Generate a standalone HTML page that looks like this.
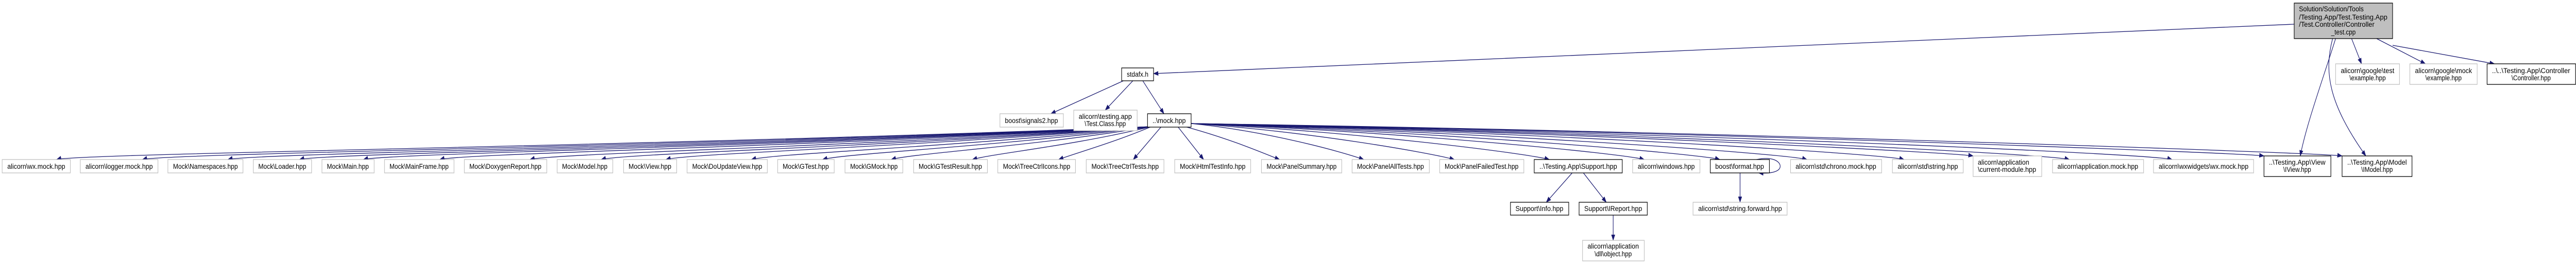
<!DOCTYPE html>
<html><head><meta charset="utf-8">
<style>
html,body{margin:0;padding:0;background:#fff;width:100%;height:100%;overflow:hidden;}
svg{display:block;position:absolute;left:0;top:0;width:100%;height:100%;}
text{font-family:"Liberation Sans",sans-serif;font-size:14px;fill:#000;}
.g{fill:#fff;stroke:#bfbfbf;stroke-width:1.3;}
.d{fill:#fff;stroke:#000;stroke-width:1.3;}
.e{fill:none;stroke:#191970;stroke-width:1.3;marker-end:url(#a);}
</style></head><body>
<svg width="100%" height="100%" viewBox="0 0 5969 513" preserveAspectRatio="none" xmlns="http://www.w3.org/2000/svg" overflow="hidden">
<defs><marker id="a" markerWidth="12" markerHeight="9" refX="11" refY="4.5" orient="auto" markerUnits="userSpaceOnUse"><path d="M0,0 L12,4.5 L0,9 z" fill="#191970"/></marker></defs>

<path class="e" d="M2668,246 C1526,284 181,298 131,310"/>
<path class="e" d="M2668,246 C1616,284 380,298 330,310"/>
<path class="e" d="M2668,246 C1705,284 578,298 528,310"/>
<path class="e" d="M2668,246 C1780,284 744,298 694,310"/>
<path class="e" d="M2668,246 C1846,284 892,298 842,310"/>
<path class="e" d="M2668,246 C1926,284 1069,298 1019,310"/>
<path class="e" d="M2668,246 C2020,284 1278,298 1228,310"/>
<path class="e" d="M2668,246 C2094,284 1443,298 1393,310"/>
<path class="e" d="M2668,246 C2162,284 1593,298 1543,310"/>
<path class="e" d="M2668,246 C2251,284 1791,298 1741,310"/>
<path class="e" d="M2668,246 C2325,284 1956,298 1906,310"/>
<path class="e" d="M2668,246 C2397,284 2115,298 2065,310"/>
<path class="e" d="M2668,246 C2481,284 2303,298 2253,310"/>
<path class="e" d="M2668,246 C2571,280 2490,298 2453,310"/>
<path class="e" d="M2690,247 L2626,310"/>
<path class="e" d="M2730,247 L2789,310"/>
<path class="e" d="M2750,247 C2850,270 2920,295 2965,310"/>
<path class="e" d="M2760,240 C2937,255 3110,295 3160,310"/>
<path class="e" d="M2760,240 C3032,255 3320,298 3370,310"/>
<path class="e" d="M2760,240 C3131,255 3540,298 3590,310"/>
<path class="e" d="M2760,240 C3230,255 3760,298 3810,310"/>
<path class="e" d="M2760,240 C3308,255 3935,298 3985,310"/>
<path class="e" d="M2760,240 C3399,255 4137,298 4187,310"/>
<path class="e" d="M2760,240 C3501,255 4362,298 4412,310"/>
<path class="e" d="M2760,240 C3573,255 4522,296 4572,303"/>
<path class="e" d="M2760,240 C3673,255 4745,298 4795,310"/>
<path class="e" d="M2760,240 C3780,255 4983,298 5033,310"/>
<path class="e" d="M2760,240 C3876,255 5196,297 5246,303"/>
<path class="e" d="M2760,240 C3957,255 5377,297 5427,303"/>

<path class="e" d="M2603,157 L2435,221"/>
<path class="e" d="M2625,157 L2561,214"/>
<path class="e" d="M2648,157 L2697,221"/>
<path class="e" d="M5316,47 L2673,143"/>
<path class="e" d="M5412,75 C5380,160 5345,240 5330,303"/>
<path class="e" d="M5405,75 C5385,140 5395,200 5482,303"/>
<path class="e" d="M5449,75 L5472,124"/>
<path class="e" d="M5507,75 L5620,124"/>
<path class="e" d="M5544,88 L5780,124"/>
<path class="e" d="M3643,336 L3583,393"/>
<path class="e" d="M3669,336 L3722,393"/>
<path class="e" d="M3738,418 L3738,467"/>
<path class="e" d="M4032,336 L4032,393"/>
<path class="e" d="M4070,310 C4110,303 4125,315 4125,323 C4125,333 4105,338 4075,336"/>

<rect x="5316" y="6" width="228" height="69" fill="#bfbfbf" stroke="#000" stroke-width="1.3"/>
<text x="5327" y="22" textLength="150" lengthAdjust="spacingAndGlyphs">Solution/Solution/Tools</text>
<text x="5327" y="38" textLength="205" lengthAdjust="spacingAndGlyphs">/Testing.App/Test.Testing.App</text>
<text x="5327" y="52" textLength="175" lengthAdjust="spacingAndGlyphs">/Test.Controller/Controller</text>
<text x="5430" y="67" text-anchor="middle">_test.cpp</text>

<rect class="d" x="2599" y="132" width="74" height="25"/><text x="2636" y="149" text-anchor="middle" textLength="50" lengthAdjust="spacingAndGlyphs">stdafx.h</text>
<rect class="g" x="5412" y="124" width="148" height="40"/><text x="5486" y="142" text-anchor="middle" textLength="124" lengthAdjust="spacingAndGlyphs">alicorn\google\test</text><text x="5486" y="156" text-anchor="middle">\example.hpp</text>
<rect class="g" x="5584" y="124" width="156" height="40"/><text x="5662" y="142" text-anchor="middle" textLength="132" lengthAdjust="spacingAndGlyphs">alicorn\google\mock</text><text x="5662" y="156" text-anchor="middle">\example.hpp</text>
<rect class="d" x="5763" y="124" width="205" height="40"/><text x="5865" y="142" text-anchor="middle" textLength="181" lengthAdjust="spacingAndGlyphs">..\..\Testing.App\Controller</text><text x="5865" y="156" text-anchor="middle">\Controller.hpp</text>

<rect class="g" x="2317" y="221" width="147" height="26"/><text x="2390" y="239" text-anchor="middle" textLength="123" lengthAdjust="spacingAndGlyphs">boost\signals2.hpp</text>
<rect class="g" x="2488" y="214" width="147" height="40"/><text x="2561" y="231" text-anchor="middle" textLength="123" lengthAdjust="spacingAndGlyphs">alicorn\testing.app</text><text x="2561" y="245" text-anchor="middle">\Test.Class.hpp</text>
<rect class="d" x="2659" y="221" width="101" height="26"/><text x="2709" y="239" text-anchor="middle" textLength="77" lengthAdjust="spacingAndGlyphs">..\mock.hpp</text>

<rect class="g" x="5" y="310" width="158" height="26"/><text x="84" y="328" text-anchor="middle" textLength="134" lengthAdjust="spacingAndGlyphs">alicorn\wx.mock.hpp</text>
<rect class="g" x="186" y="310" width="180" height="26"/><text x="276" y="328" text-anchor="middle" textLength="156" lengthAdjust="spacingAndGlyphs">alicorn\logger.mock.hpp</text>
<rect class="g" x="389" y="310" width="174" height="26"/><text x="476" y="328" text-anchor="middle" textLength="150" lengthAdjust="spacingAndGlyphs">Mock\Namespaces.hpp</text>
<rect class="g" x="587" y="310" width="135" height="26"/><text x="654" y="328" text-anchor="middle" textLength="111" lengthAdjust="spacingAndGlyphs">Mock\Loader.hpp</text>
<rect class="g" x="746" y="310" width="121" height="26"/><text x="806" y="328" text-anchor="middle" textLength="97" lengthAdjust="spacingAndGlyphs">Mock\Main.hpp</text>
<rect class="g" x="891" y="310" width="161" height="26"/><text x="971" y="328" text-anchor="middle" textLength="137" lengthAdjust="spacingAndGlyphs">Mock\MainFrame.hpp</text>
<rect class="g" x="1076" y="310" width="191" height="26"/><text x="1171" y="328" text-anchor="middle" textLength="167" lengthAdjust="spacingAndGlyphs">Mock\DoxygenReport.hpp</text>
<rect class="g" x="1291" y="310" width="129" height="26"/><text x="1355" y="328" text-anchor="middle" textLength="105" lengthAdjust="spacingAndGlyphs">Mock\Model.hpp</text>
<rect class="g" x="1445" y="310" width="123" height="26"/><text x="1506" y="328" text-anchor="middle" textLength="99" lengthAdjust="spacingAndGlyphs">Mock\View.hpp</text>
<rect class="g" x="1592" y="310" width="186" height="26"/><text x="1685" y="328" text-anchor="middle" textLength="162" lengthAdjust="spacingAndGlyphs">Mock\DoUpdateView.hpp</text>
<rect class="g" x="1802" y="310" width="131" height="26"/><text x="1867" y="328" text-anchor="middle" textLength="107" lengthAdjust="spacingAndGlyphs">Mock\GTest.hpp</text>
<rect class="g" x="1958" y="310" width="134" height="26"/><text x="2025" y="328" text-anchor="middle" textLength="110" lengthAdjust="spacingAndGlyphs">Mock\GMock.hpp</text>
<rect class="g" x="2117" y="310" width="171" height="26"/><text x="2202" y="328" text-anchor="middle" textLength="147" lengthAdjust="spacingAndGlyphs">Mock\GTestResult.hpp</text>
<rect class="g" x="2312" y="310" width="180" height="26"/><text x="2402" y="328" text-anchor="middle" textLength="156" lengthAdjust="spacingAndGlyphs">Mock\TreeCtrlIcons.hpp</text>
<rect class="g" x="2517" y="310" width="180" height="26"/><text x="2607" y="328" text-anchor="middle" textLength="156" lengthAdjust="spacingAndGlyphs">Mock\TreeCtrlTests.hpp</text>
<rect class="g" x="2722" y="310" width="176" height="26"/><text x="2810" y="328" text-anchor="middle" textLength="152" lengthAdjust="spacingAndGlyphs">Mock\HtmlTestInfo.hpp</text>
<rect class="g" x="2923" y="310" width="186" height="26"/><text x="3016" y="328" text-anchor="middle" textLength="162" lengthAdjust="spacingAndGlyphs">Mock\PanelSummary.hpp</text>
<rect class="g" x="3133" y="310" width="179" height="26"/><text x="3222" y="328" text-anchor="middle" textLength="155" lengthAdjust="spacingAndGlyphs">Mock\PanelAllTests.hpp</text>
<rect class="g" x="3336" y="310" width="195" height="26"/><text x="3433" y="328" text-anchor="middle" textLength="171" lengthAdjust="spacingAndGlyphs">Mock\PanelFailedTest.hpp</text>
<rect class="d" x="3555" y="310" width="204" height="26"/><text x="3657" y="328" text-anchor="middle" textLength="180" lengthAdjust="spacingAndGlyphs">..\Testing.App\Support.hpp</text>
<rect class="g" x="3783" y="310" width="156" height="26"/><text x="3861" y="328" text-anchor="middle" textLength="132" lengthAdjust="spacingAndGlyphs">alicorn\windows.hpp</text>
<rect class="d" x="3963" y="310" width="137" height="26"/><text x="4031" y="328" text-anchor="middle" textLength="113" lengthAdjust="spacingAndGlyphs">boost\format.hpp</text>
<rect class="g" x="4149" y="310" width="211" height="26"/><text x="4254" y="328" text-anchor="middle" textLength="187" lengthAdjust="spacingAndGlyphs">alicorn\std\chrono.mock.hpp</text>
<rect class="g" x="4385" y="310" width="164" height="26"/><text x="4467" y="328" text-anchor="middle" textLength="140" lengthAdjust="spacingAndGlyphs">alicorn\std\string.hpp</text>
<rect class="g" x="4572" y="303" width="159" height="40"/><text x="4583" y="320" textLength="119" lengthAdjust="spacingAndGlyphs">alicorn\application</text><text x="4583" y="334" textLength="135" lengthAdjust="spacingAndGlyphs">\current-module.hpp</text>
<rect class="g" x="4756" y="310" width="211" height="26"/><text x="4861" y="328" text-anchor="middle" textLength="187" lengthAdjust="spacingAndGlyphs">alicorn\application.mock.hpp</text>
<rect class="g" x="4990" y="310" width="232" height="26"/><text x="5106" y="328" text-anchor="middle" textLength="208" lengthAdjust="spacingAndGlyphs">alicorn\wxwidgets\wx.mock.hpp</text>
<rect class="d" x="5246" y="303" width="155" height="40"/><text x="5323" y="320" text-anchor="middle" textLength="131" lengthAdjust="spacingAndGlyphs">..\Testing.App\View</text><text x="5323" y="334" text-anchor="middle">\IView.hpp</text>
<rect class="d" x="5427" y="303" width="162" height="40"/><text x="5508" y="320" text-anchor="middle" textLength="138" lengthAdjust="spacingAndGlyphs">..\Testing.App\Model</text><text x="5508" y="334" text-anchor="middle">\IModel.hpp</text>

<rect class="d" x="3500" y="393" width="135" height="25"/><text x="3567" y="410" text-anchor="middle" textLength="111" lengthAdjust="spacingAndGlyphs">Support\Info.hpp</text>
<rect class="d" x="3659" y="393" width="158" height="25"/><text x="3738" y="410" text-anchor="middle" textLength="134" lengthAdjust="spacingAndGlyphs">Support\IReport.hpp</text>
<rect class="g" x="3667" y="467" width="143" height="40"/><text x="3738" y="483" text-anchor="middle" textLength="119" lengthAdjust="spacingAndGlyphs">alicorn\application</text><text x="3738" y="498" text-anchor="middle">\dll\object.hpp</text>
<rect class="g" x="3923" y="393" width="218" height="25"/><text x="4032" y="410" text-anchor="middle" textLength="194" lengthAdjust="spacingAndGlyphs">alicorn\std\string.forward.hpp</text>
</svg>
</body></html>
